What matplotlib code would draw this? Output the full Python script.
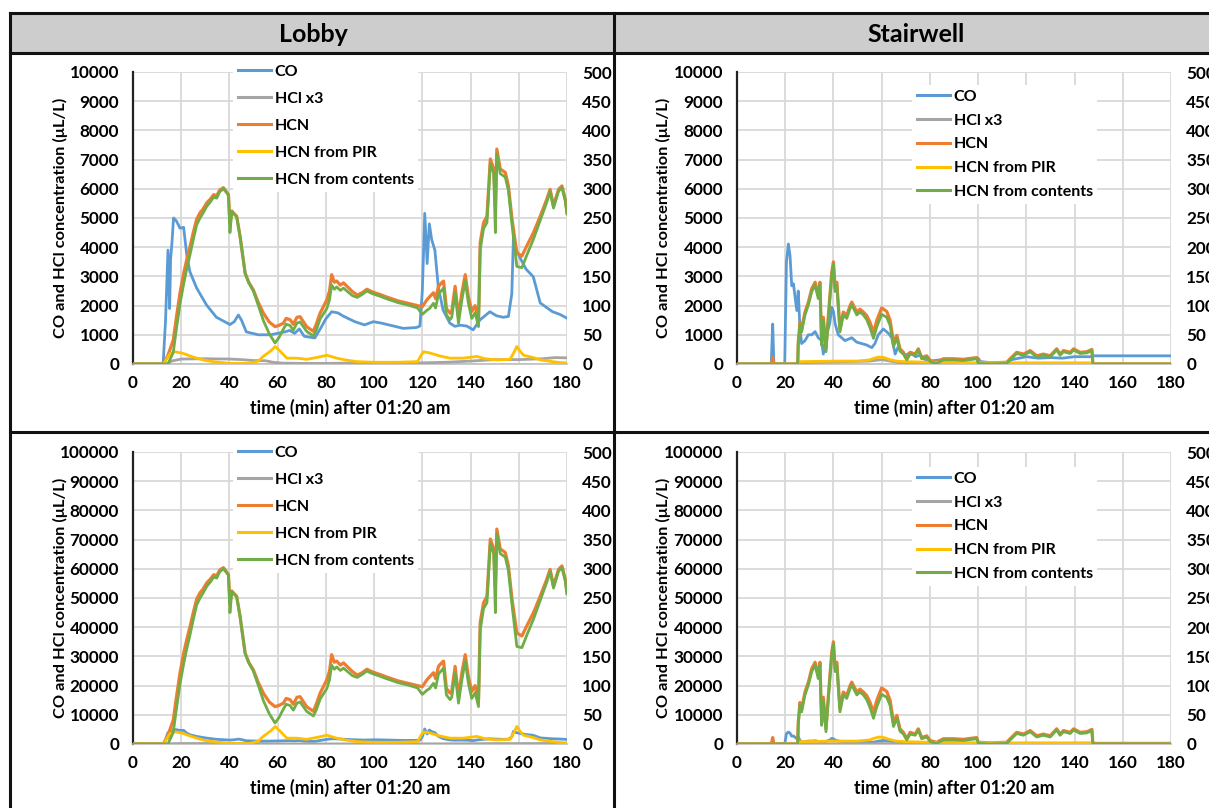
import matplotlib
matplotlib.use("Agg")
import matplotlib.pyplot as plt
from matplotlib.lines import Line2D
from matplotlib.patches import Rectangle

plt.rcParams['font.family'] = ['Lato', 'DejaVu Sans']
plt.rcParams['font.weight'] = 'bold'

# ---------------- data ----------------
panel_titles = ["Lobby", "Stairwell"]
series_names = ["CO", "HCl x3", "HCN", "HCN from PIR", "HCN from contents"]
x_label = "time (min) after 01:20 am"
y_label = "CO and HCl concentration (\u03bcL/L)"

# Lobby – CO (left axis)
lobby_co_t = [0, 12.5, 13.5, 14.5, 15.2, 15.6, 16.2, 16.8, 18, 19.5, 21, 22.3, 23.6, 26.4, 30.5, 34.6, 38, 40.2,
              42, 43.7, 45, 47, 52, 57, 60, 63, 65, 67, 69, 71, 75.4, 78, 80, 82.4, 85, 87, 89.2, 92, 96, 99.7,
              103, 106.6, 112.1, 117.6, 119, 120, 121, 122, 122.9, 123.9, 125.2, 126.6, 128.6, 131.4, 133.5,
              135.6, 138.4, 141.1, 143.9, 148, 150.8, 153.6, 155.7, 157.1, 157.8, 159, 161, 163, 166, 168.9,
              174, 177, 180]
lobby_co = [0, 0, 1500, 3900, 1900, 3600, 4200, 5000, 4900, 4650, 4680, 3730, 3160, 2600, 2020, 1600, 1450, 1350,
            1450, 1680, 1500, 1100, 1000, 1000, 1050, 1100, 1150, 1050, 1200, 950, 890, 1250, 1550, 1790, 1750,
            1650, 1560, 1450, 1340, 1450, 1400, 1330, 1220, 1250, 1300, 2500, 5160, 3440, 4800, 4250, 3900,
            2650, 1850, 1400, 1290, 1330, 1300, 1170, 1510, 1790, 1650, 1600, 1630, 2400, 4360, 3900, 3560,
            3250, 2990, 2090, 1790, 1700, 1570]

# Lobby – HCl x3 (left axis)
lobby_hcl_t = [0, 14, 16, 20, 30, 40, 45, 50, 55, 58, 62, 70, 80, 90, 100, 120, 130, 140, 150, 160, 170, 175, 180]
lobby_hcl = [0, 0, 100, 170, 180, 170, 150, 120, 110, 60, 30, 20, 20, 30, 30, 40, 60, 100, 150, 150, 180, 220, 210]

# Lobby – HCN, HCN from contents (right axis)
lobby_hcn_t = [0, 12.6, 14.5, 16.7, 18, 19.5, 21, 22.3, 23.7, 25, 26.4, 27.8, 29, 30.6, 32, 33.5, 34.7, 36, 37.5,
               38.9, 39.6, 40.2, 41, 41.6, 43, 44.4, 46.5, 48, 49.9, 52, 54.1, 56.5, 58.9, 60.5, 62.4, 63.5, 65.1,
               66.5, 68, 69.3, 72, 74.8, 76, 77.6, 80.4, 81.5, 82.4, 83.5, 84.5, 86, 87.3, 89, 91, 93, 95, 97, 99,
               101, 102.5, 105, 110, 114, 118, 120, 121.9, 123, 124.6, 125.5, 126.7, 128, 128.8, 130, 131.5,
               132.2, 133.6, 135, 136.4, 137.8, 139.1, 140.5, 141.9, 143.3, 144, 145.4, 146.8, 148.2, 149.6,
               150.3, 150.9, 152.3, 154.4, 155.7, 157.2, 159.2, 161.3, 163.3, 166.1, 168.9, 171.6, 173, 174.4,
               176.5, 177.9, 179.3, 180]
lobby_hcn = [0, 0, 15, 41, 80, 122, 155, 179, 202, 225, 248, 259, 265, 276, 282, 290, 288, 298, 302, 294, 290, 240,
             262, 259, 253, 219, 156, 140, 127, 105, 87, 72, 64, 66, 70, 78, 76, 68, 80, 81, 64, 56, 68, 87, 110,
             125, 153, 140, 142, 135, 139, 132, 124, 118, 122, 128, 124, 121, 119, 115, 108, 104, 100, 98, 110, 115,
             122, 112, 133, 139, 142, 95, 87, 90, 133, 81, 122, 153, 115, 90, 100, 76, 208, 242, 253, 351, 334,
             270, 368, 334, 328, 305, 248, 190, 185, 202, 225, 253, 282, 299, 271, 299, 305, 282, 259]
lobby_cont = [0, 0, 0, 20, 60, 103, 137, 163, 188, 213, 238, 250, 258, 270, 277, 286, 284, 295, 300, 293, 289, 225,
              261, 258, 252, 218, 155, 139, 125, 100, 74, 52, 36, 45, 60, 68, 66, 58, 70, 72, 56, 48, 58, 77, 95,
              110, 135, 128, 132, 126, 130, 124, 117, 114, 119, 125, 121, 118, 116, 112, 105, 101, 96, 85, 92, 95,
              104, 96, 120, 126, 130, 84, 76, 80, 122, 70, 110, 142, 104, 78, 88, 64, 195, 232, 242, 343, 326,
              225, 360, 326, 320, 297, 238, 167, 165, 186, 214, 246, 277, 295, 267, 296, 302, 279, 257]

# Lobby – HCN from PIR (right axis)
lobby_pir_t = [0, 12.6, 15.4, 17.4, 20.9, 23.5, 26.4, 30, 33.3, 40.2, 48.5, 52, 54, 57, 59, 61, 63.8, 68, 72, 76,
               80.4, 84.5, 88, 93, 100, 110, 118, 119.5, 120.5, 123, 127, 131.5, 137, 142.6, 146, 151, 156.4, 158,
               159.2, 160.5, 162, 166, 169, 174, 178.5, 180]
lobby_pir = [0, 0, 18, 21, 18, 14, 10, 6, 4, 1, 1, 5, 13, 22, 30, 22, 10, 10, 8, 11, 15, 10, 7, 4, 3, 3, 4, 15, 21,
             19, 14, 10, 10, 13, 9, 7, 8, 20, 30, 22, 15, 11, 7, 4, 2, 2]

# Stairwell – CO (left axis)
stair_co_t = [0, 14.2, 14.8, 15.3, 19.8, 20.5, 21.3, 22, 22.7, 23.4, 24, 24.8, 25.4, 26.1, 26.8, 28.2, 29.6, 31,
              32.4, 33.7, 35.1, 35.8, 37.2, 38.5, 39.3, 40, 40.7, 42, 43.4, 44.8, 46.2, 47.6, 49.6, 51.7, 53.8,
              55.9, 57.2, 58.6, 60.7, 62.8, 64.2, 65.6, 66.9, 68.5, 70, 72, 74, 76, 78, 80, 85, 90, 95, 100, 101,
              105, 112, 114, 117, 120, 125, 130, 135, 140, 145, 147.5, 147.8, 180]
stair_co = [0, 0, 1370, 0, 0, 3500, 4110, 3700, 2680, 2750, 2350, 1830, 2500, 1250, 700, 800, 1000, 1000, 1110, 900,
            800, 340, 1000, 1400, 1940, 1800, 1380, 1000, 900, 800, 850, 900, 750, 700, 650, 560, 700, 1000, 1200,
            1050, 900, 340, 600, 400, 300, 400, 250, 300, 150, 100, 150, 150, 150, 200, 80, 50, 50, 150, 200, 250,
            200, 220, 200, 250, 250, 250, 280, 280]

# Stairwell – HCl x3 (left axis)
stair_hcl_t = [0, 25, 30, 45, 55, 60, 65, 70, 180]
stair_hcl = [0, 0, 50, 80, 100, 150, 80, 0, 0]

# Stairwell – HCN, HCN from contents (right axis)
stair_hcn_t = [0, 14.3, 14.8, 15.3, 25.2, 25.4, 26.1, 26.8, 28.2, 29.6, 31, 32.4, 33.7, 34.4, 35.1, 35.8, 36.9,
               37.9, 39.3, 40, 40.7, 41.4, 42.7, 44.1, 45.5, 46.9, 47.6, 49.7, 51, 52.4, 53.8, 55.2, 56.6, 58, 60,
               62.1, 63.5, 64.9, 66.3, 67.6, 69, 70.4, 71.8, 73.9, 75.2, 76.6, 78.7, 80.1, 82.8, 85.6, 89.8, 93.9,
               99.4, 100.1, 105, 111.9, 113.3, 116, 118.8, 121.6, 124.3, 127.1, 129.9, 132.6, 134, 135.4, 138.2,
               139.6, 142.3, 145.1, 147.2, 147.6, 180]
stair_hcn = [0, 0, 11, 0, 0, 37, 71, 60, 89, 106, 129, 140, 117, 140, 37, 80, 26, 83, 157, 175, 129, 140, 60, 89,
             83, 100, 106, 89, 94, 89, 83, 71, 54, 75, 96, 90, 75, 37, 49, 26, 20, 9, 20, 17, 26, 11, 14, 6, 3, 9,
             9, 8, 11, 3, 2, 3, 9, 20, 17, 23, 14, 17, 14, 26, 17, 23, 20, 26, 20, 21, 25, 0, 0]
stair_cont = [0, 0, 0, 0, 0, 33, 66, 55, 84, 101, 124, 135, 112, 135, 32, 75, 21, 78, 152, 171, 124, 135, 55, 84,
              78, 95, 101, 84, 89, 84, 76, 62, 44, 64, 85, 80, 66, 30, 44, 22, 17, 7, 17, 15, 24, 9, 12, 4, 1, 7,
              7, 6, 9, 1, 0, 1, 7, 18, 15, 21, 12, 15, 12, 24, 15, 21, 18, 24, 18, 19, 23, 0, 0]

# Stairwell – HCN from PIR (right axis)
stair_pir_t = [0, 25, 26, 40, 50, 55, 57, 59, 61, 63, 66, 70, 80, 100, 147.5, 148, 180]
stair_pir = [0, 0, 4, 5, 5, 7, 10, 12, 11, 8, 5, 4, 3, 2, 2, 0, 0]

x_ticks = [0, 20, 40, 60, 80, 100, 120, 140, 160, 180]
left_max = [10000, 100000]
left_step = [1000, 10000]
right_ticks = [0, 50, 100, 150, 200, 250, 300, 350, 400, 450, 500]

colors = ["#5B9BD5", "#A5A5A5", "#ED7D31", "#FFC000", "#70AD47"]

# ---------------- layout ----------------
W, H = 1209, 808
fig = plt.figure(figsize=(W / 100, H / 100), dpi=100)
fig.patch.set_facecolor("white")


def fx(px):
    return px / W


def fy(py):
    return 1 - py / H


# table frame
fig.add_artist(Rectangle((fx(10), fy(53)), fx(1300 - 10), 40 / H, transform=fig.transFigure,
                         facecolor="#cdcdcd", edgecolor="none", zorder=0))
frame_kw = dict(transform=fig.transFigure, color="#111111", lw=2.2, zorder=5)
fig.add_artist(Line2D([fx(10), 1.0], [fy(13), fy(13)], **frame_kw))
fig.add_artist(Line2D([fx(10), 1.0], [fy(53), fy(53)], **frame_kw))
fig.add_artist(Line2D([fx(10), 1.0], [fy(432), fy(432)], **frame_kw))
fig.add_artist(Line2D([fx(10), fx(10)], [fy(13), 0], **frame_kw))
fig.add_artist(Line2D([fx(614), fx(614)], [fy(13), 0], **frame_kw))
fig.text(fx(313), fy(34), panel_titles[0], ha="center", va="center", fontsize=18, fontweight="bold")
fig.text(fx(916), fy(34), panel_titles[1], ha="center", va="center", fontsize=18, fontweight="bold")

panels = {
    "Lobby": dict(co=(lobby_co_t, lobby_co), hcl=(lobby_hcl_t, lobby_hcl), hcn=(lobby_hcn_t, lobby_hcn),
                  pir=(lobby_pir_t, lobby_pir), cont=(lobby_hcn_t, lobby_cont)),
    "Stairwell": dict(co=(stair_co_t, stair_co), hcl=(stair_hcl_t, stair_hcl), hcn=(stair_hcn_t, stair_hcn),
                      pir=(stair_pir_t, stair_pir), cont=(stair_hcn_t, stair_cont)),
}

col_left = [133, 737]
rows_top = [72, 452]
plot_w, plot_h = 434, 292
legend_pos = {(0, 0): (233, 60, 0.8), (0, 1): (912, 85, 0.6),
              (1, 0): (233, 441, 0.8), (1, 1): (912, 467, 0.6)}

fs_tick = 12.3
fs_xlab = 12.8
fs_ylab = 11.8
fs_leg = 11.5
lw = 2.0

for r in range(2):
    for c in range(2):
        d = panels[panel_titles[c]]
        L, T = col_left[c], rows_top[r]
        ax = fig.add_axes([fx(L), fy(T + plot_h), plot_w / W, plot_h / H])
        ax2 = ax.twinx()
        ax.set_zorder(1)
        ax2.set_zorder(2)
        ax.patch.set_visible(False)
        ax2.patch.set_visible(False)

        l_co, = ax.plot(*d["co"], color=colors[0], lw=lw, zorder=3)
        l_hcl, = ax.plot(*d["hcl"], color=colors[1], lw=lw, zorder=3)
        l_hcn, = ax2.plot(*d["hcn"], color=colors[2], lw=lw + 0.3, zorder=3)
        l_pir, = ax2.plot(*d["pir"], color=colors[3], lw=lw, zorder=4)
        l_cont, = ax2.plot(*d["cont"], color=colors[4], lw=lw, zorder=5)

        ymax = left_max[r]
        ax.set_xlim(0, 180)
        ax.set_ylim(0, ymax)
        ax2.set_ylim(0, 500)
        ax.set_xticks(x_ticks)
        ax.set_yticks(list(range(0, ymax + 1, left_step[r])))
        ax2.set_yticks(right_ticks)
        ax.grid(True, color="#d9d9d9", lw=1.3, zorder=0)
        ax.set_axisbelow(True)
        ax.tick_params(axis="both", length=0, labelsize=fs_tick)
        ax.tick_params(axis="y", pad=10)
        ax.tick_params(axis="x", pad=8)
        ax2.tick_params(axis="y", length=0, labelsize=fs_tick, pad=11)
        for a in (ax, ax2):
            for s in ("top", "right", "left", "bottom"):
                a.spines[s].set_visible(False)
        ax.spines["left"].set_visible(True)
        ax.spines["left"].set_color("#222222")
        ax.spines["left"].set_linewidth(1.6)
        ax.spines["bottom"].set_visible(True)
        ax.spines["bottom"].set_color("#bfbfbf")
        ax.spines["bottom"].set_linewidth(1.2)
        for lab in ax.get_xticklabels() + ax.get_yticklabels() + ax2.get_yticklabels():
            lab.set_fontweight("bold")

        ax.set_xlabel(x_label, fontsize=fs_xlab, fontweight="bold")
        ax.xaxis.set_label_coords(0.5, (364 - 408) / plot_h, transform=ax.transAxes)
        ax.xaxis.label.set_va("center")
        ax.set_ylabel(y_label, fontsize=fs_ylab, fontweight="bold")
        yl_x = (60 if c == 0 else 663)
        ax.yaxis.set_label_coords((yl_x - L) / plot_w, 0.5, transform=ax.transAxes)
        ax.yaxis.label.set_va("center")

        lx, ly, lsp = legend_pos[(r, c)]
        leg = ax2.legend([l_co, l_hcl, l_hcn, l_pir, l_cont], series_names, loc="upper left",
                         bbox_to_anchor=(fx(lx), fy(ly)), bbox_transform=fig.transFigure,
                         frameon=True, fancybox=False, framealpha=1, facecolor="white", edgecolor="none",
                         fontsize=fs_leg, handlelength=2.1, handletextpad=0.2, labelspacing=lsp,
                         borderpad=0.3, borderaxespad=0)
        for t in leg.get_texts():
            t.set_fontweight("bold")
        for h in leg.get_lines():
            h.set_linewidth(2.2)

fig.savefig("out.png", dpi=100, facecolor="white")
